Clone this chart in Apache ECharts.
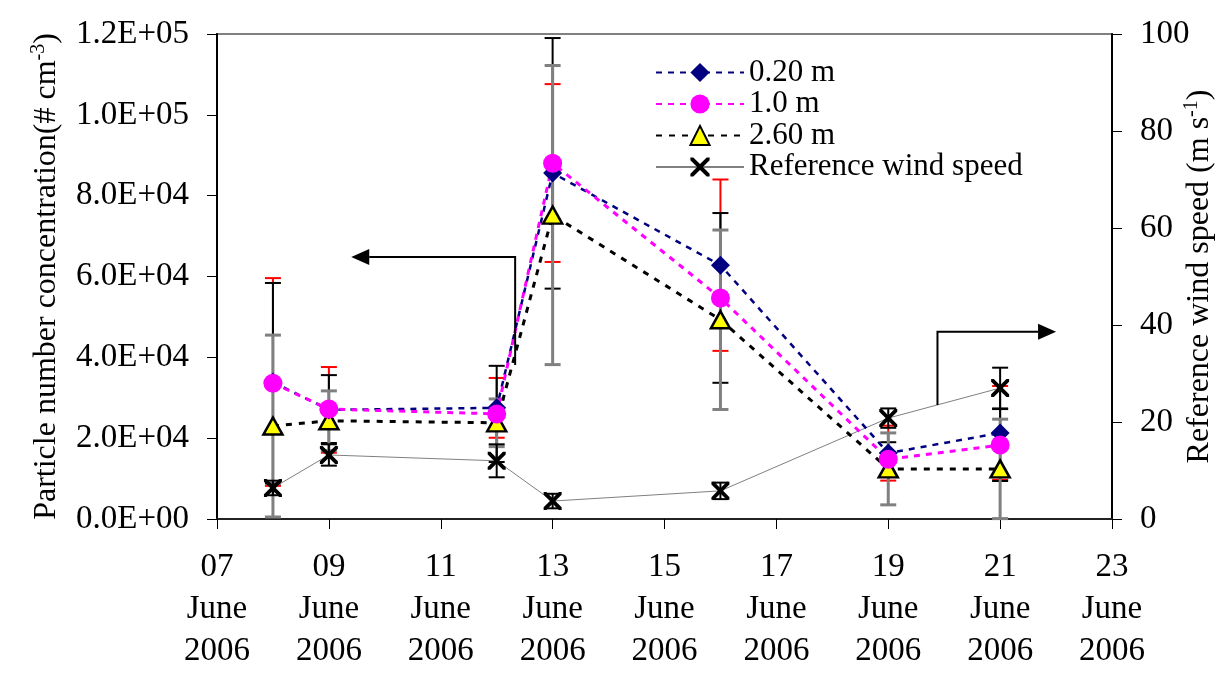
<!DOCTYPE html>
<html>
<head>
<meta charset="utf-8">
<script src="https://cdn.jsdelivr.net/npm/echarts@6/dist/echarts.min.js"></script>
<style>html,body{margin:0;padding:0;background:#fff}#c{width:1225px;height:676px}</style>
</head>
<body>
<div id="c"></div>
<script>
// ---- data ----
const days = [8, 9, 12, 13, 16, 19, 21];
const conc020 = [33900, 27000, 27500, 85600, 62800, 16300, 21300];
const conc100 = [33600, 27200, 26000, 88000, 54700, 14800, 18300];
const conc260 = [23000, 24300, 23800, 75200, 49300, 12400, 12400];
const windSpeed = [6.4, 13.2, 12.0, 3.7, 5.8, 20.8, 27.0];
const err020 = [25700, 10600, 7400, 22000, 21200, 6800, 11600];
const err100 = [24800, 8400, 11900, 31000, 21000, 4200, 8900];
const err260 = [22500, 7400, 5900, 37000, 22200, 8900, 12300];
const errWind = [1.5, 2.2, 3.4, 1.5, 1.7, 2.0, 4.2];
const xTickDays = [7, 9, 11, 13, 15, 17, 19, 21, 23];
const xTickLabels = ['07', '09', '11', '13', '15', '17', '19', '21', '23'];
const monthLabel = 'June';
const yearLabel = '2006';
const yLeftTicks = [0, 20000, 40000, 60000, 80000, 100000, 120000];
const yLeftLabels = ['0.0E+00', '2.0E+04', '4.0E+04', '6.0E+04', '8.0E+04', '1.0E+05', '1.2E+05'];
const seriesNames = ['0.20 m', '1.0 m', '2.60 m', 'Reference wind speed'];
// annotation arrows (in data coordinates: day, value)
const leftArrow = [12.33, 38100, 12.33, 64800, 9.4, 64800];
const rightArrow = [19.88, 23.5, 19.88, 38.6, 22.0, 38.6];

const FONT = 'Liberation Serif';
const xMark = 'path://M0,0 L3,0 L10,7 L17,0 L20,0 L20,3 L13,10 L20,17 L20,20 L17,20 L10,13 L3,20 L0,20 L0,17 L7,10 L0,3 Z';

function pairs(vals) { return days.map((d, i) => [d, vals[i]]); }
function errData(vals, errs) { return days.map((d, i) => [d, vals[i] - errs[i], vals[i] + errs[i]]); }

function errSeries(name, vals, errs, color, width, yIdx, z) {
  return {
    name: name, type: 'custom', yAxisIndex: yIdx, z: z, silent: true,
    data: errData(vals, errs),
    renderItem: function (params, api) {
      const x = api.value(0);
      const lo = api.coord([x, api.value(1)]);
      const hi = api.coord([x, api.value(2)]);
      const hw = 8;
      const st = { stroke: color, lineWidth: width, fill: null };
      return {
        type: 'group',
        children: [
          { type: 'line', shape: { x1: lo[0], y1: lo[1], x2: hi[0], y2: hi[1] }, style: st },
          { type: 'line', shape: { x1: lo[0] - hw, y1: lo[1], x2: lo[0] + hw, y2: lo[1] }, style: st },
          { type: 'line', shape: { x1: hi[0] - hw, y1: hi[1], x2: hi[0] + hw, y2: hi[1] }, style: st }
        ]
      };
    }
  };
}

function arrowSeries(name, coords, yIdx) {
  return {
    name: name, type: 'custom', yAxisIndex: yIdx, z: 5, silent: true,
    data: [coords],
    renderItem: function (params, api) {
      const pts = [];
      for (let i = 0; i < 3; i++) pts.push(api.coord([api.value(2 * i), api.value(2 * i + 1)]));
      const a = pts[1], b = pts[2];
      const dx = b[0] - a[0], dy = b[1] - a[1];
      const len = Math.sqrt(dx * dx + dy * dy) || 1;
      const ux = dx / len, uy = dy / len;
      const L = 18, W = 8;
      const base = [b[0] - ux * L, b[1] - uy * L];
      const head = [b, [base[0] - uy * W, base[1] + ux * W], [base[0] + uy * W, base[1] - ux * W]];
      return {
        type: 'group',
        children: [
          { type: 'polyline', shape: { points: [pts[0], pts[1], base] }, style: { stroke: '#000', lineWidth: 2, fill: null } },
          { type: 'polygon', shape: { points: head }, style: { fill: '#000', stroke: null } }
        ]
      };
    }
  };
}

const chart = echarts.init(document.getElementById('c'));
chart.setOption({
  animation: false,
  backgroundColor: '#fff',
  textStyle: { fontFamily: FONT },
  grid: { left: 217, right: 113, top: 34, bottom: 157, show: true, borderColor: '#808080', borderWidth: 2, containLabel: false, outerBoundsMode: 'none' },
  legend: {
    data: seriesNames,
    orient: 'vertical', left: 650, top: 52,
    itemWidth: 88, itemHeight: 24, itemGap: 0.5,
    textStyle: { fontFamily: FONT, fontSize: 31, color: '#000', lineHeight: 31 },
    inactiveColor: '#ccc'
  },
  xAxis: {
    type: 'value', min: 7, max: 23, interval: 2,
    axisLine: { onZero: false, lineStyle: { color: '#222', width: 2 } },
    axisTick: { show: true, length: 10, lineStyle: { color: '#000', width: 1 } },
    splitLine: { show: false },
    axisLabel: {
      fontFamily: FONT, fontSize: 33, color: '#000', lineHeight: 42, margin: 27,
      formatter: function (v) {
        const i = xTickDays.indexOf(v);
        return (i >= 0 ? xTickLabels[i] : v) + '\n' + monthLabel + '\n' + yearLabel;
      }
    }
  },
  yAxis: [
    {
      type: 'value', min: 0, max: 120000, interval: 20000, position: 'left',
      name: '{a|Particle number concentration(# cm}{s|-3}{a|)}',
      nameLocation: 'middle', nameGap: 152, nameRotate: 90,
      nameTextStyle: {
        rich: {
          a: { fontFamily: FONT, fontSize: 32, color: '#000', lineHeight: 36 },
          s: { fontFamily: FONT, fontSize: 20, color: '#000', lineHeight: 36, verticalAlign: 'top' }
        }
      },
      axisLine: { show: true, lineStyle: { color: '#000', width: 2 } },
      axisTick: { show: true, length: 10, lineStyle: { color: '#000' } },
      splitLine: { show: false },
      axisLabel: {
        fontFamily: FONT, fontSize: 33, color: '#000', margin: 28,
        formatter: function (v) { const i = yLeftTicks.indexOf(v); return i >= 0 ? yLeftLabels[i] : v; }
      }
    },
    {
      type: 'value', min: 0, max: 100, interval: 20, position: 'right',
      name: '{a|Reference wind speed (m s}{s|-1}{a|)}',
      nameLocation: 'middle', nameGap: 70, nameRotate: 90, nameMoveOverlap: false,
      nameTextStyle: {
        rich: {
          a: { fontFamily: FONT, fontSize: 32, color: '#000', lineHeight: 36 },
          s: { fontFamily: FONT, fontSize: 20, color: '#000', lineHeight: 36, verticalAlign: 'top' }
        }
      },
      axisLine: { show: true, lineStyle: { color: '#000', width: 2 } },
      axisTick: { show: true, length: 10, lineStyle: { color: '#000' } },
      splitLine: { show: false },
      axisLabel: { fontFamily: FONT, fontSize: 33, color: '#000', margin: 28 }
    }
  ],
  series: [
    errSeries('err020', conc020, err020, '#FF0000', 2, 0, 2),
    errSeries('err100', conc100, err100, '#000000', 2, 0, 2),
    errSeries('err260', conc260, err260, '#808080', 3, 0, 2),
    errSeries('errWind', windSpeed, errWind, '#000000', 2, 1, 2),
    {
      name: seriesNames[3], type: 'line', yAxisIndex: 1, z: 3,
      data: pairs(windSpeed),
      symbol: xMark, symbolSize: 18,
      itemStyle: { color: '#000' },
      lineStyle: { color: '#808080', width: 1 }
    },
    {
      name: seriesNames[2], type: 'line', yAxisIndex: 0, z: 4,
      data: pairs(conc260),
      symbol: 'triangle', symbolSize: [19, 17],
      itemStyle: { color: '#FFFF00', borderColor: '#000', borderWidth: 2.5 },
      lineStyle: { color: '#000', width: 3, type: [6, 7] }
    },
    {
      name: seriesNames[0], type: 'line', yAxisIndex: 0, z: 4,
      data: pairs(conc020),
      symbol: 'diamond', symbolSize: 19,
      itemStyle: { color: '#000080' },
      lineStyle: { color: '#000080', width: 2.5, type: [6, 6] }
    },
    {
      name: seriesNames[1], type: 'line', yAxisIndex: 0, z: 4,
      data: pairs(conc100),
      symbol: 'circle', symbolSize: 19,
      itemStyle: { color: '#FF00FF' },
      lineStyle: { color: '#FF00FF', width: 3, type: [6, 6] }
    },
    arrowSeries('leftArrow', leftArrow, 0),
    arrowSeries('rightArrow', rightArrow, 1)
  ]
});
</script>
</body>
</html>
